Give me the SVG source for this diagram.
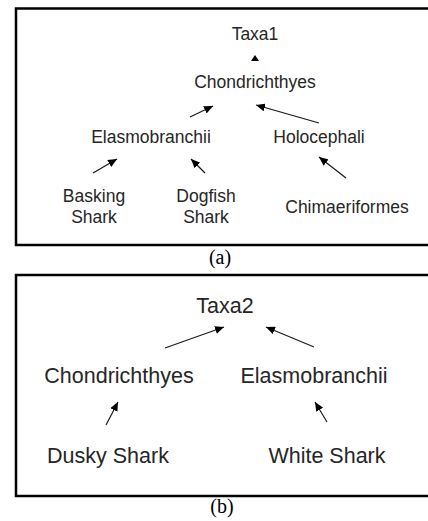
<svg xmlns="http://www.w3.org/2000/svg" width="428" height="521" viewBox="0 0 428 521">
<style>
.t{font-family:"Liberation Sans",Arial,sans-serif;fill:#262626;text-anchor:middle}
.a{font-size:17.5px}
.b{font-size:21.5px}
.cap{font-family:"Liberation Serif","Times New Roman",serif;font-size:20px;fill:#000;text-anchor:middle}
.frame{fill:none;stroke:#000;stroke-width:2.5}
.e{stroke:#1a1a1a;stroke-width:1.2;fill:none;marker-end:url(#ah)}
</style>
<defs>
<marker id="ah" markerUnits="userSpaceOnUse" markerWidth="10" markerHeight="8" refX="9" refY="4" orient="auto">
<path d="M0,0 L9,4 L0,8 z" fill="#000"/>
</marker>
</defs>
<rect width="428" height="521" fill="#fff"/>
<rect class="frame" x="16" y="8.5" width="430" height="236.5"/>
<rect class="frame" x="16" y="275" width="430" height="221"/>
<g id="connectors">
<polygon points="255,55 251,61 259,61" fill="#000"/>
<line class="e" x1="190" y1="117" x2="213" y2="106"/>
<line class="e" x1="319" y1="123" x2="256" y2="105"/>
<line class="e" x1="93" y1="173" x2="117" y2="159"/>
<line class="e" x1="205" y1="173" x2="191" y2="159"/>
<line class="e" x1="346" y1="178" x2="319" y2="157"/>
<line class="e" x1="165" y1="348" x2="224" y2="327"/>
<line class="e" x1="314" y1="347" x2="266" y2="327"/>
<line class="e" x1="106" y1="425" x2="118" y2="402"/>
<line class="e" x1="327" y1="422" x2="315" y2="402"/>
</g>
<g id="taxa1"><text class="t a" x="255" y="40">Taxa1</text></g>
<g id="chondrichthyes-a"><text class="t a" x="255" y="88">Chondrichthyes</text></g>
<g id="elasmobranchii-a"><text class="t a" x="151" y="143">Elasmobranchii</text></g>
<g id="holocephali"><text class="t a" x="319" y="143">Holocephali</text></g>
<g id="basking-shark"><text class="t a" x="94" y="202">Basking</text><text class="t a" x="94" y="223">Shark</text></g>
<g id="dogfish-shark"><text class="t a" x="206" y="202">Dogfish</text><text class="t a" x="206" y="223">Shark</text></g>
<g id="chimaeriformes"><text class="t a" x="347" y="213">Chimaeriformes</text></g>
<text class="cap" x="220" y="264">(a)</text>
<g id="taxa2"><text class="t b" x="225" y="313">Taxa2</text></g>
<g id="chondrichthyes-b"><text class="t b" x="119" y="383">Chondrichthyes</text></g>
<g id="elasmobranchii-b"><text class="t b" x="314" y="383">Elasmobranchii</text></g>
<g id="dusky-shark"><text class="t b" x="108" y="463">Dusky Shark</text></g>
<g id="white-shark"><text class="t b" x="327" y="463">White Shark</text></g>
<text class="cap" x="222" y="513">(b)</text>
</svg>
